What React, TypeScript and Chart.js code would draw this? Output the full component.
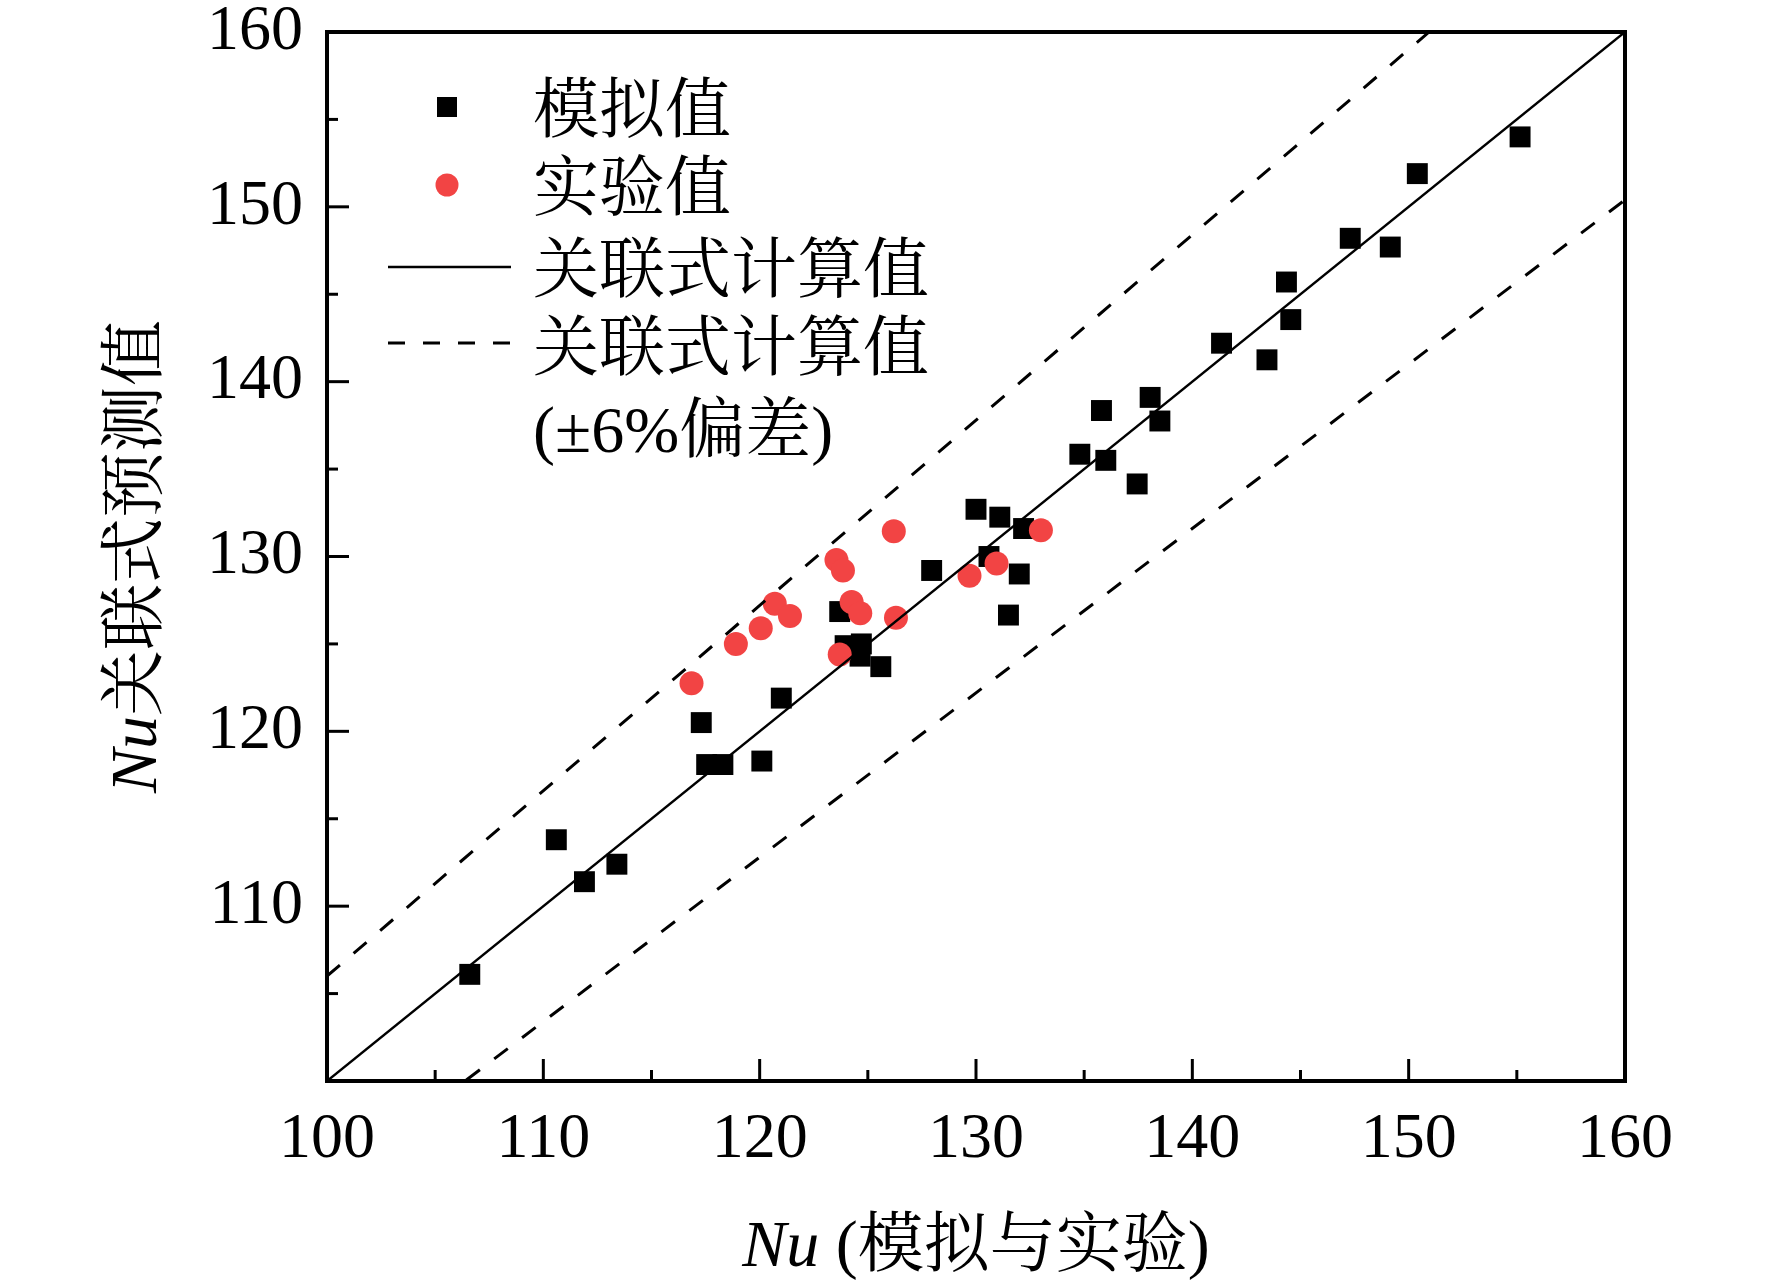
import React, { useEffect, useRef } from "react";
import { Chart, registerables } from "chart.js";

Chart.register(...registerables);

// Nu from simulation (x) vs correlation prediction (y)
const simX = [106.6, 110.6, 111.9, 113.4, 117.3, 117.55, 118.3, 120.1, 121.0, 123.7, 123.95, 124.7, 124.64, 125.6, 127.95, 130.0, 130.6, 131.1, 131.5, 132.0, 132.2, 134.8, 135.8, 136.0, 137.45, 138.05, 138.5, 141.35, 143.45, 144.35, 144.55, 147.3, 149.15, 150.4, 155.15];
const simY = [106.1, 113.8, 111.4, 112.4, 120.5, 118.1, 118.1, 118.3, 121.9, 126.85, 124.9, 125.0, 124.3, 123.7, 129.2, 132.7, 130.0, 132.25, 126.65, 129.0, 131.6, 135.85, 138.35, 135.5, 134.15, 139.1, 137.75, 142.2, 141.25, 145.7, 143.55, 148.2, 147.7, 151.9, 154.0];

// Nu from experiment (x) vs correlation prediction (y)
const expX = [116.85, 118.9, 120.05, 120.7, 121.4, 123.55, 123.85, 123.7, 124.25, 124.65, 126.2, 126.3, 129.7, 130.95, 133.0];
const expY = [122.75, 125.0, 125.9, 127.3, 126.6, 129.8, 129.2, 124.4, 127.4, 126.75, 131.45, 126.5, 128.9, 129.6, 131.5];

// correlation line and ±6% band
const fitX = [100, 160];
const bandFactors = [1, 1.06, 0.94];

const axisMin = 100;
const axisMax = 160;
const majorStep = 10;
const minorStep = 5;

const legendLabels = ["模拟值", "实验值", "关联式计算值", "关联式计算值", "(±6%偏差)"];
const xTitle = ["Nu", " (模拟与实验)"];
const yTitle = ["Nu", "关联式预测值"];

const FONT = '"Liberation Serif", "Times New Roman", "Noto Serif CJK SC", "Noto Sans CJK SC", serif';
const RED = "#f24444";

const drawMixed = (ctx: CanvasRenderingContext2D, parts: string[], cx: number, cy: number, size: number) => {
    ctx.font = `italic ${size}px ${FONT}`;
    const w0 = ctx.measureText(parts[0]).width;
    ctx.font = `${size}px ${FONT}`;
    const w1 = ctx.measureText(parts[1]).width;
    let x = cx - (w0 + w1) / 2;
    ctx.textAlign = "left";
    ctx.textBaseline = "middle";
    ctx.font = `italic ${size}px ${FONT}`;
    ctx.fillText(parts[0], x, cy);
    x += w0;
    ctx.font = `${size}px ${FONT}`;
    ctx.fillText(parts[1], x, cy);
};

const decorPlugin = {
    id: "decor",
    afterDraw(chart: any) {
        const { ctx, chartArea: a, scales } = chart;
        ctx.save();
        ctx.strokeStyle = "#000";
        ctx.fillStyle = "#000";

        // inward ticks
        ctx.lineWidth = 3;
        for (let v = axisMin + minorStep; v < axisMax; v += minorStep) {
            const len = v % majorStep === 0 ? 22 : 11;
            const px = scales.x.getPixelForValue(v);
            ctx.beginPath();
            ctx.moveTo(px, a.bottom);
            ctx.lineTo(px, a.bottom - len);
            ctx.stroke();
            const py = scales.y.getPixelForValue(v);
            ctx.beginPath();
            ctx.moveTo(a.left, py);
            ctx.lineTo(a.left + len, py);
            ctx.stroke();
        }

        // frame
        ctx.lineWidth = 4;
        ctx.strokeRect(a.left, a.top, a.right - a.left, a.bottom - a.top);

        // axis titles
        drawMixed(ctx, xTitle, (a.left + a.right) / 2, 1249, 66);
        ctx.save();
        ctx.translate(139, (a.top + a.bottom) / 2);
        ctx.rotate(-Math.PI / 2);
        drawMixed(ctx, yTitle, 0, 0, 66);
        ctx.restore();

        // legend
        const ds = chart.data.datasets;
        const mx = 447;
        const tx = 533;
        const rows = [107, 185, 267, 345, 427];
        const textShift = 8;
        ctx.fillStyle = ds[4].backgroundColor;
        ctx.fillRect(mx - 10, rows[0] - 10, 20, 20);
        ctx.fillStyle = ds[3].backgroundColor;
        ctx.beginPath();
        ctx.arc(mx, rows[1], 11.5, 0, Math.PI * 2);
        ctx.fill();
        ctx.strokeStyle = "#000";
        ctx.lineWidth = 2.5;
        ctx.beginPath();
        ctx.moveTo(388, rows[2]);
        ctx.lineTo(511, rows[2]);
        ctx.stroke();
        ctx.setLineDash([17, 18]);
        ctx.lineWidth = 3;
        ctx.beginPath();
        ctx.moveTo(388, rows[3] - 2);
        ctx.lineTo(511, rows[3] - 2);
        ctx.stroke();
        ctx.setLineDash([]);

        ctx.fillStyle = "#000";
        ctx.font = `66px ${FONT}`;
        ctx.textAlign = "left";
        ctx.textBaseline = "middle";
        legendLabels.forEach((t, i) => ctx.fillText(t, tx, rows[i] + textShift));
        ctx.restore();
    },
};

const App = () => {
    const canvasRef = useRef<HTMLCanvasElement | null>(null);

    useEffect(() => {
        const ctx = canvasRef.current?.getContext("2d") as CanvasRenderingContext2D;
        if (!ctx) return;

        const lineSets = bandFactors.map((f, i) => ({
            type: "line" as const,
            label: i === 0 ? "fit" : "band",
            data: fitX.map((x) => ({ x, y: x * f })),
            borderColor: "#000",
            borderWidth: i === 0 ? 2.5 : 3,
            borderDash: i === 0 ? [] : [17, 18],
            pointRadius: 0,
            showLine: true,
            fill: false,
            clip: 0,
        }));

        const chart = new Chart(ctx, {
            type: "scatter",
            data: {
                datasets: [
                    ...lineSets,
                    {
                        label: "实验值",
                        data: expX.map((x, i) => ({ x, y: expY[i] })),
                        backgroundColor: RED,
                        borderColor: RED,
                        borderWidth: 0,
                        pointStyle: "circle",
                        pointRadius: 12,
                    },
                    {
                        label: "模拟值",
                        data: simX.map((x, i) => ({ x, y: simY[i] })),
                        backgroundColor: "#000",
                        borderColor: "#000",
                        borderWidth: 0,
                        pointStyle: "rect",
                        pointRadius: 14.8,
                    },
                ] as any,
            },
            options: {
                animation: false,
                responsive: false,
                devicePixelRatio: 1,
                layout: { padding: { left: 0, top: 32, right: 147, bottom: 0 } },
                plugins: {
                    legend: { display: false },
                    tooltip: { enabled: false },
                },
                scales: {
                    x: {
                        type: "linear",
                        min: axisMin,
                        max: axisMax,
                        grid: { display: false, drawTicks: false },
                        border: { display: false },
                        ticks: {
                            stepSize: majorStep,
                            padding: 27,
                            color: "#000",
                            font: { family: FONT, size: 64, lineHeight: 1 },
                            maxRotation: 0,
                        },
                        afterFit: (s: any) => {
                            s.height = 202;
                            s.paddingLeft = 0;
                            s.paddingRight = 0;
                        },
                    },
                    y: {
                        type: "linear",
                        min: axisMin,
                        max: axisMax,
                        grid: { display: false, drawTicks: false },
                        border: { display: false },
                        ticks: {
                            stepSize: majorStep,
                            padding: 24,
                            color: "#000",
                            font: { family: FONT, size: 64, lineHeight: 1 },
                            callback: (v: any) => (v === axisMin ? "" : v),
                        },
                        afterFit: (s: any) => {
                            s.width = 327;
                            s.paddingTop = 0;
                            s.paddingBottom = 0;
                        },
                    },
                },
            },
            plugins: [decorPlugin],
        });

        return () => {
            chart.destroy();
        };
    }, []);

    return (
        <div style={{ position: "absolute", left: 0, top: 0, background: "#fff" }}>
            <canvas ref={canvasRef} width={1772} height={1283} style={{ width: 1772, height: 1283, display: "block" }} />
        </div>
    );
};

export default App;
